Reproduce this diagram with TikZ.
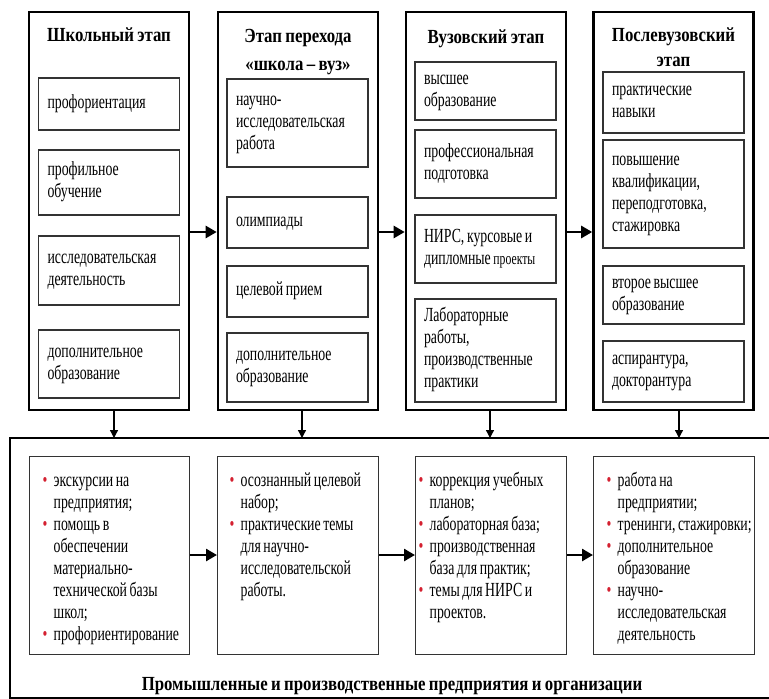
\documentclass[tikz,border=0pt]{standalone}
\usepackage{fontspec}
\setmainfont{Liberation Serif}[FakeStretch=0.69, WordSpace=0.75]
\newfontfamily\titlefont{Liberation Serif}[FakeStretch=0.84, WordSpace=0.8]
\usetikzlibrary{arrows.meta}
\definecolor{bulred}{HTML}{D42030}
\definecolor{boxgray}{HTML}{333333}
\newcommand{\bitem}{\par\hangindent=11pt\hangafter=1\noindent\strut\makebox[11pt][l]{\textcolor{bulred}{\textbullet}}}
\begin{document}
\begin{tikzpicture}[x=1pt,y=-1pt,
  stage/.style={draw=black, line width=2.6pt, inner sep=0pt, minimum width=160pt, minimum height=398pt},
  ibox/.style={draw=boxgray, line width=1.3pt, align=flush left, text width=123pt, inner xsep=9pt, inner ysep=0pt,
     font=\fontsize{20}{22}\selectfont, execute at begin node=\strut, execute at end node=\strut},
  bbox/.style={draw=boxgray, line width=1.3pt, inner sep=0pt, anchor=north west},
  ttl/.style={font=\titlefont\bfseries\fontsize{20}{22}\selectfont, inner sep=0pt, anchor=base},
  bigarrow/.style={line width=2.6pt, -{Triangle[length=11pt,width=12pt]}},
  downarrow/.style={line width=1.3pt, -{Triangle[length=8pt,width=8pt]}},
  frame/.style={line width=2.6pt}
]
\useasboundingbox (0,0) rectangle (769,699);
\fill[white] (0,0) rectangle (769,699);

% stage frames
\node[stage] (s1) at (109,211) {};
\node[stage] (s2) at (298,211) {};
\node[stage] (s3) at (486,211) {};
\node[stage] (s4) at (673.5,211) {};

% titles
\node[ttl] (t1) at (109,41) {Школьный этап};
\node[ttl] (t2a) at (298,42) {Этап перехода};
\node[ttl] (t2b) at (298,70) {«школа – вуз»};
\node[ttl] (t3) at (486,43) {Вузовский этап};
\node[ttl] (t4a) at (673.5,41) {Послевузовский};
\node[ttl] (t4b) at (673.5,66) {этап};

% stage 1 items
\node[ibox, minimum height=52pt] (a1) at (109,104) {профориентация};
\node[ibox, minimum height=65pt] (a2) at (109,182.5) {профильное\\обучение};
\node[ibox, minimum height=69pt] (a3) at (109,270.5) {исследовательская\\деятельность};
\node[ibox, minimum height=68pt] (a4) at (109,364) {дополнительное\\образование};

% stage 2 items
\node[ibox, minimum height=88pt] (b1) at (297.5,123) {научно-\\исследовательская\\работа};
\node[ibox, minimum height=51pt] (b2) at (297.5,222.5) {олимпиады};
\node[ibox, minimum height=51pt] (b3) at (297.5,291.5) {целевой прием};
\node[ibox, minimum height=69pt] (b4) at (297.5,367.5) {дополнительное\\образование};

% stage 3 items
\node[ibox, minimum height=58pt] (c1) at (485.5,91) {высшее\\образование};
\node[ibox, minimum height=68pt] (c2) at (485.5,164) {профессиональная\\подготовка};
\node[ibox, minimum height=68pt] (c3) at (485.5,249) {НИРС, курсовые и\\дипломные {\fontsize{17}{22}\selectfont проекты}};
\node[ibox, minimum height=103pt] (c4) at (485.5,350.5) {Лабораторные\\работы,\\производственные\\практики};

% stage 4 items
\node[ibox, minimum height=61pt] (d1) at (673.5,102.5) {практические\\навыки};
\node[ibox, minimum height=108pt] (d2) at (673.5,194) {повышение\\квалификации,\\переподготовка,\\стажировка};
\node[ibox, minimum height=58pt] (d3) at (673.5,295) {второе высшее\\образование};
\node[ibox, minimum height=61pt] (d4) at (673.5,371.5) {аспирантура,\\докторантура};

% arrows between stages
\coordinate (row1) at (0,232);
\draw[bigarrow] (s1.east |- row1) -- (s2.west |- row1);
\draw[bigarrow] (s2.east |- row1) -- (s3.west |- row1);
\draw[bigarrow] (s3.east |- row1) -- (s4.west |- row1);

% enterprise frame
\coordinate (ftop) at (0,438);
\draw[frame] (769,438) -- (10,438) -- (10,698) -- (769,698);

% down arrows
\draw[downarrow] ([xshift=5pt]s1.south) -- ([xshift=5pt]s1.south |- ftop);
\draw[downarrow] ([xshift=4pt]s2.south) -- ([xshift=4pt]s2.south |- ftop);
\draw[downarrow] ([xshift=4pt]s3.south) -- ([xshift=4pt]s3.south |- ftop);
\draw[downarrow] ([xshift=5.5pt]s4.south) -- ([xshift=5.5pt]s4.south |- ftop);

% bottom boxes
\node[bbox] (A) at (29,456) {\parbox[t][198pt][t]{160pt}{\fontsize{20}{22}\selectfont\leftskip=13pt\vspace*{14pt}%
\bitem экскурсии на\newline предприятия;%
\bitem помощь в\newline обеспечении\newline материально-\newline технической базы\newline школ;%
\bitem профориентирование\par}};
\node[bbox] (B) at (217,456) {\parbox[t][198pt][t]{161pt}{\fontsize{20}{22}\selectfont\leftskip=12pt\vspace*{14pt}%
\bitem осознанный целевой\newline набор;%
\bitem практические темы\newline для научно-\newline исследовательской\newline работы.\par}};
\node[bbox] (C) at (415,456) {\parbox[t][198pt][t]{151pt}{\fontsize{20}{22}\selectfont\leftskip=3pt\vspace*{14pt}%
\bitem коррекция учебных\newline планов;%
\bitem лабораторная база;%
\bitem производственная\newline база для практик;%
\bitem темы для НИРС и\newline проектов.\par}};
\node[bbox] (D) at (593,456) {\parbox[t][198pt][t]{161pt}{\fontsize{20}{22}\selectfont\leftskip=13pt\rightskip=0pt minus 20pt\vspace*{14pt}%
\bitem работа на\newline предприятии;%
\bitem тренинги, стажировки;%
\bitem дополнительное\newline образование%
\bitem научно-\newline исследовательская\newline деятельность\par}};

% arrows between bottom boxes
\coordinate (row2) at (0,555);
\draw[bigarrow] (A.east |- row2) -- (B.west |- row2);
\draw[bigarrow] (B.east |- row2) -- (C.west |- row2);
\draw[bigarrow] (C.east |- row2) -- (D.west |- row2);

% enterprise title
\node[ttl] (org) at (392,690) {Промышленные и производственные предприятия и организации};
\end{tikzpicture}
\end{document}
